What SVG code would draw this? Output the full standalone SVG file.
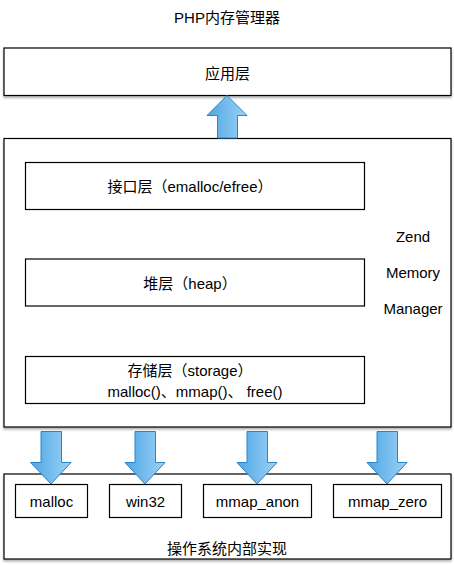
<svg xmlns="http://www.w3.org/2000/svg" width="454" height="565" viewBox="0 0 454 565">
<defs>
<linearGradient id="ag" x1="0" y1="0" x2="1" y2="0">
<stop offset="0" stop-color="#4FA5E4"/>
<stop offset="1" stop-color="#9BD3F6"/>
</linearGradient>
<filter id="sh" x="-5%" y="-5%" width="110%" height="115%">
<feDropShadow dx="0" dy="2" stdDeviation="1.2" flood-color="#000" flood-opacity="0.3"/>
</filter>
</defs>
<style>
.box{fill:#fff;stroke:#000;stroke-width:1.2}
.outer{filter:url(#sh)}
.t{font-family:"Liberation Sans","Noto Sans CJK SC",sans-serif;font-size:15px;fill:#000;text-anchor:middle;dominant-baseline:central}
.arr{fill:url(#ag);stroke:#2A84C9;stroke-width:1}
</style>
<text class="t" x="227" y="17">PHP内存管理器</text>
<g id="app">
<rect class="box outer" x="4" y="48" width="447" height="47.5"/>
<text class="t" x="227.5" y="73">应用层</text>
</g>
<g id="zend">
<rect class="box outer" x="4" y="138.5" width="447" height="288.5"/>
<text class="t" x="413" y="236">Zend</text>
<text class="t" x="413" y="272">Memory</text>
<text class="t" x="413" y="308">Manager</text>
</g>
<g id="iface">
<rect class="box" x="25.5" y="162.5" width="339" height="47"/>
<text class="t" x="190" y="186">接口层（emalloc/efree）</text>
</g>
<g id="heap">
<rect class="box" x="25.5" y="259" width="339" height="47"/>
<text class="t" x="190" y="283">堆层（heap）</text>
</g>
<g id="storage">
<rect class="box" x="25.5" y="356.5" width="339" height="47"/>
<text class="t" x="190" y="370">存储层（storage）</text>
<text class="t" x="195" y="391">malloc()、mmap()、 free()</text>
</g>
<g id="os">
<rect class="box outer" x="4" y="474" width="447" height="85"/>
<text class="t" x="227" y="548">操作系统内部实现</text>
</g>
<g id="malloc">
<rect class="box" x="15.5" y="484.5" width="72" height="33"/>
<text class="t" x="51.5" y="501.5">malloc</text>
</g>
<g id="win32">
<rect class="box" x="109.5" y="484.5" width="72" height="33"/>
<text class="t" x="145.5" y="501.5">win32</text>
</g>
<g id="mmap_anon">
<rect class="box" x="203.5" y="484.5" width="108" height="33"/>
<text class="t" x="257.5" y="501.5">mmap_anon</text>
</g>
<g id="mmap_zero">
<rect class="box" x="333.5" y="484.5" width="108" height="33"/>
<text class="t" x="387.5" y="501.5">mmap_zero</text>
</g>
<g id="connectors">
<path class="arr" d="M217.5,138 V115.5 H207 L227,95.5 L247,115.5 H237.5 V138 Z"/>
<path class="arr" d="M41,431.5 V462.5 H30.5 L51,484 L71,462.5 H61.5 V431.5 Z"/>
<path class="arr" d="M135,431.5 V462.5 H125 L145,484 L165,462.5 H155.5 V431.5 Z"/>
<path class="arr" d="M247,431.5 V462.5 H237 L257,484 L277,462.5 H267.5 V431.5 Z"/>
<path class="arr" d="M377,431.5 V462.5 H367 L387,484 L407,462.5 H397.5 V431.5 Z"/>
</g>
</svg>
